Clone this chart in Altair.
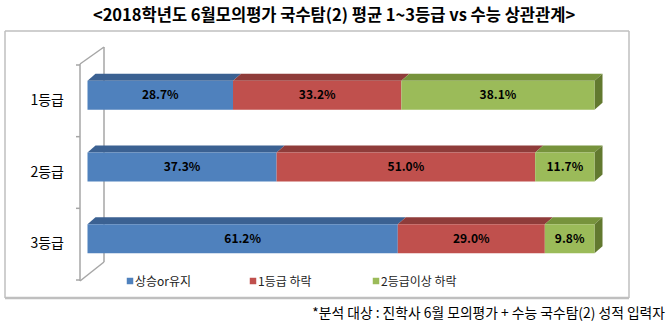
import altair as alt
import pandas as pd

# ---- data ----
grades = ["1등급", "2등급", "3등급"]
series = ["상승or유지", "1등급 하락", "2등급이상 하락"]
rise_keep = [28.7, 37.3, 61.2]
drop_one = [33.2, 51.0, 29.0]
drop_two = [38.1, 11.7, 9.8]

title_text = "<2018학년도 6월모의평가 국수탐(2) 평균 1~3등급 vs 수능 상관관계>"
note_text = "*분석 대상 : 진학사 6월 모의평가 + 수능 국수탐(2) 성적 입력자"

# ---- styles / layout ----
FONT = "Noto Sans CJK KR"
front_colors = ["#4f81bd", "#c0504d", "#9bbb59"]
top_colors = ["#3b6192", "#8f3c3a", "#77933c"]
side_colors = ["#2f4f78", "#7a302e", "#62792f"]
LINE = "#a6a6a6"

W, H = 672, 330
X_RANGE = [87.5, 594.5]
Y_RANGE = [65, 280]
x_scale = alt.Scale(domain=[0, 100], range=X_RANGE, nice=False, zero=False)
y_scale = alt.Scale(domain=[-0.5, len(grades) - 0.5], range=Y_RANGE, nice=False, zero=False)
px_x = 100 / (X_RANGE[1] - X_RANGE[0])
px_y = len(grades) / (Y_RANGE[1] - Y_RANGE[0])
DX, DY = 8, 7          # 3D depth in px
FT, FB = -20, 9        # front face top / bottom relative to band centre, px

values = [rise_keep, drop_one, drop_two]
seg_rows, top_rows, side_rows = [], [], []
for gi, g in enumerate(grades):
    start = 0.0
    ft = gi + FT * px_y
    fb = gi + FB * px_y
    dx = DX * px_x
    dy = DY * px_y
    for si, s in enumerate(series):
        v = values[si][gi]
        end = start + v
        seg_rows.append(dict(grade=g, gi=gi, series=s, start=start, end=end,
                             mid=(start + end) / 2, label=f"{v:.1f}%",
                             yt=ft, yb=fb, yc=(ft + fb) / 2))
        key = f"{gi}-{si}"
        for xx, ya, yb2 in [(start, ft, ft), (start + dx, ft - dy, ft),
                            (end, ft - dy, ft), (end + dx, ft - dy, ft - dy)]:
            top_rows.append(dict(key=key, series=s, x=xx, y=ya, y2=yb2))
        if si == len(series) - 1:
            side_rows.append(dict(key=key, series=s, x=end, y=ft, y2=fb))
            side_rows.append(dict(key=key, series=s, x=end + dx, y=ft - dy, y2=fb - dy))
        start = end

seg_df = pd.DataFrame(seg_rows)
top_df = pd.DataFrame(top_rows)
side_df = pd.DataFrame(side_rows)
grade_df = pd.DataFrame({"grade": grades, "gi": list(range(len(grades)))})
tick_df = pd.DataFrame({"b": [i - 0.5 for i in range(len(grades) + 1)]})
dummy = pd.DataFrame({"d": [0]})


def cscale(rng):
    return alt.Scale(domain=series, range=rng)


top = alt.Chart(top_df).mark_area(interpolate="linear").encode(
    x=alt.X("x:Q", scale=x_scale, axis=None),
    y=alt.Y("y:Q", scale=y_scale, axis=None, stack=None),
    y2="y2:Q",
    detail="key:N",
    color=alt.Color("series:N", scale=cscale(top_colors), legend=None),
)

side = alt.Chart(side_df).mark_area(interpolate="linear").encode(
    x=alt.X("x:Q", scale=x_scale, axis=None),
    y=alt.Y("y:Q", scale=y_scale, axis=None, stack=None),
    y2="y2:Q",
    detail="key:N",
    color=alt.Color("series:N", scale=cscale(side_colors), legend=None),
)

front = alt.Chart(seg_df).mark_bar().encode(
    x=alt.X("start:Q", scale=x_scale, axis=None),
    x2="end:Q",
    y=alt.Y("yt:Q", scale=y_scale, axis=None),
    y2="yb:Q",
    color=alt.Color("series:N", scale=cscale(front_colors), legend=None),
)

labels = alt.Chart(seg_df).mark_text(font=FONT, fontSize=12, fontWeight="bold",
                                     color="#000000", baseline="middle").encode(
    x=alt.X("mid:Q", scale=x_scale, axis=None),
    y=alt.Y("yc:Q", scale=y_scale, axis=None),
    text="label:N",
)

grade_labels = alt.Chart(grade_df).mark_text(font=FONT, fontSize=14, color="#000000",
                                             align="right", baseline="middle").encode(
    x=alt.value(64),
    y=alt.Y("gi:Q", scale=y_scale, axis=None),
    text="grade:N",
)

ticks = alt.Chart(tick_df).mark_rule(color=LINE, strokeWidth=1.5).encode(
    y=alt.Y("b:Q", scale=y_scale, axis=None),
    x=alt.value(76),
    x2=alt.value(80),
)


def seg(x1, y1, x2, y2, color=LINE, w=1.5):
    return alt.Chart(dummy).mark_rule(color=color, strokeWidth=w).encode(
        x=alt.value(x1), y=alt.value(y1), x2=alt.value(x2), y2=alt.value(y2))


wall = [
    seg(104, 47, 104, 262),
    seg(80, 64, 104, 47),
    seg(80, 281, 104, 262),
    seg(80, 64, 80, 281),
]

border = [
    seg(5, 31, 629, 31, "#bfbfbf", 1.5),
    seg(5, 31, 5, 298, "#bfbfbf", 1.5),
    seg(629, 31, 629, 298, "#bfbfbf", 1.5),
    seg(5, 298, 629, 298, "#bfbfbf", 2.5),
]

LEGEND_X = [127, 250, 373]
legend = []
for k, s in enumerate(series):
    legend.append(alt.Chart(dummy).mark_square(size=42, color=front_colors[k], opacity=1,
                                                filled=True).encode(
        x=alt.value(LEGEND_X[k] + 3), y=alt.value(281)))
    legend.append(alt.Chart(dummy).mark_text(font=FONT, fontSize=12, color="#222222",
                                              align="left", baseline="middle").encode(
        x=alt.value(LEGEND_X[k] + 8), y=alt.value(282), text=alt.value(s)))

title = alt.Chart(dummy).mark_text(font=FONT, fontSize=16.5, fontWeight="bold",
                                   color="#000000", align="center", baseline="middle").encode(
    x=alt.value(334), y=alt.value(16), text=alt.value(title_text))

note = alt.Chart(dummy).mark_text(font=FONT, fontSize=13.8, color="#000000",
                                  align="right", baseline="middle").encode(
    x=alt.value(665), y=alt.value(314), text=alt.value(note_text))

chart = alt.layer(
    *border, *wall, ticks, top, side, front, labels, grade_labels, *legend, title, note
).resolve_scale(color="independent").properties(
    width=W, height=H, autosize=alt.AutoSizeParams(type="none"), padding=0,
    background="#ffffff",
).configure_view(strokeWidth=0)

chart.save("out.html", embed_options={"renderer": "svg", "actions": False})
